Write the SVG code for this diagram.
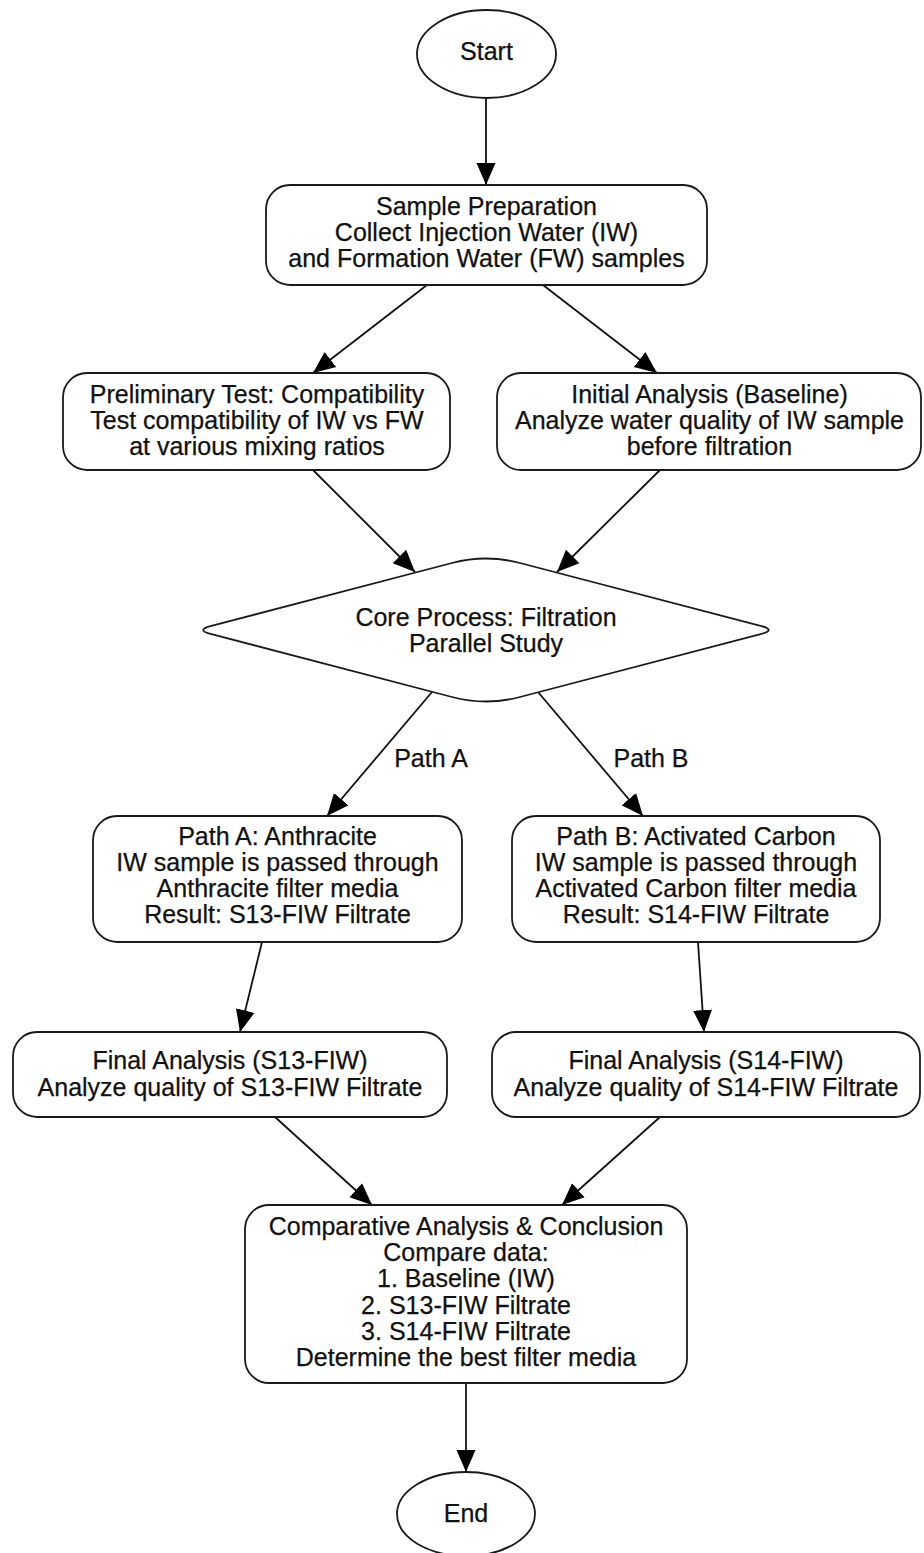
<svg xmlns="http://www.w3.org/2000/svg" width="924" height="1553" viewBox="0 0 924 1553">
<style>
  .node { fill: #ffffff; stroke: #1a1a1a; stroke-width: 1.8; }
  .lbl { font-family: "Liberation Sans", Arial, sans-serif; font-size: 25px; fill: #111; text-anchor: middle; stroke: #111; stroke-width: 0.25; }
  .edge { fill: none; stroke: #111; stroke-width: 1.8; }
</style>
<defs>
  <marker id="arrow" markerUnits="userSpaceOnUse" markerWidth="23" markerHeight="22" refX="22" refY="11" orient="auto">
    <path d="M0,1.5 L22,11 L0,20.5 Z" fill="#000"/>
  </marker>
</defs>
<rect width="924" height="1553" fill="#ffffff"/>

<g id="connectors">
  <line class="edge" x1="486" y1="98" x2="486" y2="185" marker-end="url(#arrow)"/>
  <line class="edge" x1="427" y1="285" x2="313" y2="373" marker-end="url(#arrow)"/>
  <line class="edge" x1="543" y1="285" x2="657" y2="373" marker-end="url(#arrow)"/>
  <line class="edge" x1="313" y1="470" x2="415" y2="572" marker-end="url(#arrow)"/>
  <line class="edge" x1="660" y1="470" x2="557" y2="572" marker-end="url(#arrow)"/>
  <line class="edge" x1="432" y1="692" x2="327" y2="816" marker-end="url(#arrow)"/>
  <text class="lbl" x="431" y="767">Path A</text>
  <line class="edge" x1="538" y1="692" x2="643" y2="816" marker-end="url(#arrow)"/>
  <text class="lbl" x="651" y="767">Path B</text>
  <line class="edge" x1="262" y1="942" x2="240" y2="1032" marker-end="url(#arrow)"/>
  <line class="edge" x1="698" y1="942" x2="704" y2="1032" marker-end="url(#arrow)"/>
  <line class="edge" x1="275" y1="1117" x2="372" y2="1205" marker-end="url(#arrow)"/>
  <line class="edge" x1="660" y1="1117" x2="562" y2="1205" marker-end="url(#arrow)"/>
  <line class="edge" x1="466" y1="1383" x2="466" y2="1472" marker-end="url(#arrow)"/>
</g>

<g id="start">
  <ellipse class="node" cx="486.5" cy="54" rx="69.5" ry="44"/>
  <text class="lbl" x="486.5" y="60">Start</text>
</g>

<g id="sample-preparation">
  <rect class="node" x="266" y="185" width="441" height="100" rx="24" ry="24"/>
  <text class="lbl" x="486.5" y="215">Sample Preparation</text>
  <text class="lbl" x="486.5" y="241">Collect Injection Water (IW)</text>
  <text class="lbl" x="486.5" y="267">and Formation Water (FW) samples</text>
</g>

<g id="preliminary-test">
  <rect class="node" x="63" y="373" width="387" height="97" rx="24" ry="24"/>
  <text class="lbl" x="257" y="403">Preliminary Test: Compatibility</text>
  <text class="lbl" x="257" y="429">Test compatibility of IW vs FW</text>
  <text class="lbl" x="257" y="455">at various mixing ratios</text>
</g>

<g id="initial-analysis">
  <rect class="node" x="497" y="373" width="424" height="97" rx="24" ry="24"/>
  <text class="lbl" x="709.5" y="403">Initial Analysis (Baseline)</text>
  <text class="lbl" x="709.5" y="429">Analyze water quality of IW sample</text>
  <text class="lbl" x="709.5" y="455">before filtration</text>
</g>

<g id="core-process">
  <path class="node" d="M520,563 L761.5,626.1 Q776,630 761.5,633.9 L520,697 Q486,706 452,697 L210.5,633.9 Q196,630 210.5,626.1 L452,563 Q486,554 520,563 Z"/>
  <text class="lbl" x="486" y="626">Core Process: Filtration</text>
  <text class="lbl" x="486" y="652">Parallel Study</text>
</g>

<g id="path-a">
  <rect class="node" x="93" y="816" width="369" height="126" rx="24" ry="24"/>
  <text class="lbl" x="277.5" y="845">Path A: Anthracite</text>
  <text class="lbl" x="277.5" y="871">IW sample is passed through</text>
  <text class="lbl" x="277.5" y="897">Anthracite filter media</text>
  <text class="lbl" x="277.5" y="923">Result: S13-FIW Filtrate</text>
</g>

<g id="path-b">
  <rect class="node" x="512" y="816" width="368" height="126" rx="24" ry="24"/>
  <text class="lbl" x="696" y="845">Path B: Activated Carbon</text>
  <text class="lbl" x="696" y="871">IW sample is passed through</text>
  <text class="lbl" x="696" y="897">Activated Carbon filter media</text>
  <text class="lbl" x="696" y="923">Result: S14-FIW Filtrate</text>
</g>

<g id="final-s13">
  <rect class="node" x="13" y="1032" width="434" height="85" rx="24" ry="24"/>
  <text class="lbl" x="230" y="1069">Final Analysis (S13-FIW)</text>
  <text class="lbl" x="230" y="1096">Analyze quality of S13-FIW Filtrate</text>
</g>

<g id="final-s14">
  <rect class="node" x="492" y="1032" width="428" height="85" rx="24" ry="24"/>
  <text class="lbl" x="706" y="1069">Final Analysis (S14-FIW)</text>
  <text class="lbl" x="706" y="1096">Analyze quality of S14-FIW Filtrate</text>
</g>

<g id="comparative-analysis">
  <rect class="node" x="245" y="1205" width="442" height="178" rx="24" ry="24"/>
  <text class="lbl" x="466" y="1235">Comparative Analysis &amp; Conclusion</text>
  <text class="lbl" x="466" y="1261">Compare data:</text>
  <text class="lbl" x="466" y="1287">1. Baseline (IW)</text>
  <text class="lbl" x="466" y="1314">2. S13-FIW Filtrate</text>
  <text class="lbl" x="466" y="1340">3. S14-FIW Filtrate</text>
  <text class="lbl" x="466" y="1366">Determine the best filter media</text>
</g>

<g id="end">
  <ellipse class="node" cx="466" cy="1514" rx="69" ry="42"/>
  <text class="lbl" x="466" y="1522">End</text>
</g>
</svg>
